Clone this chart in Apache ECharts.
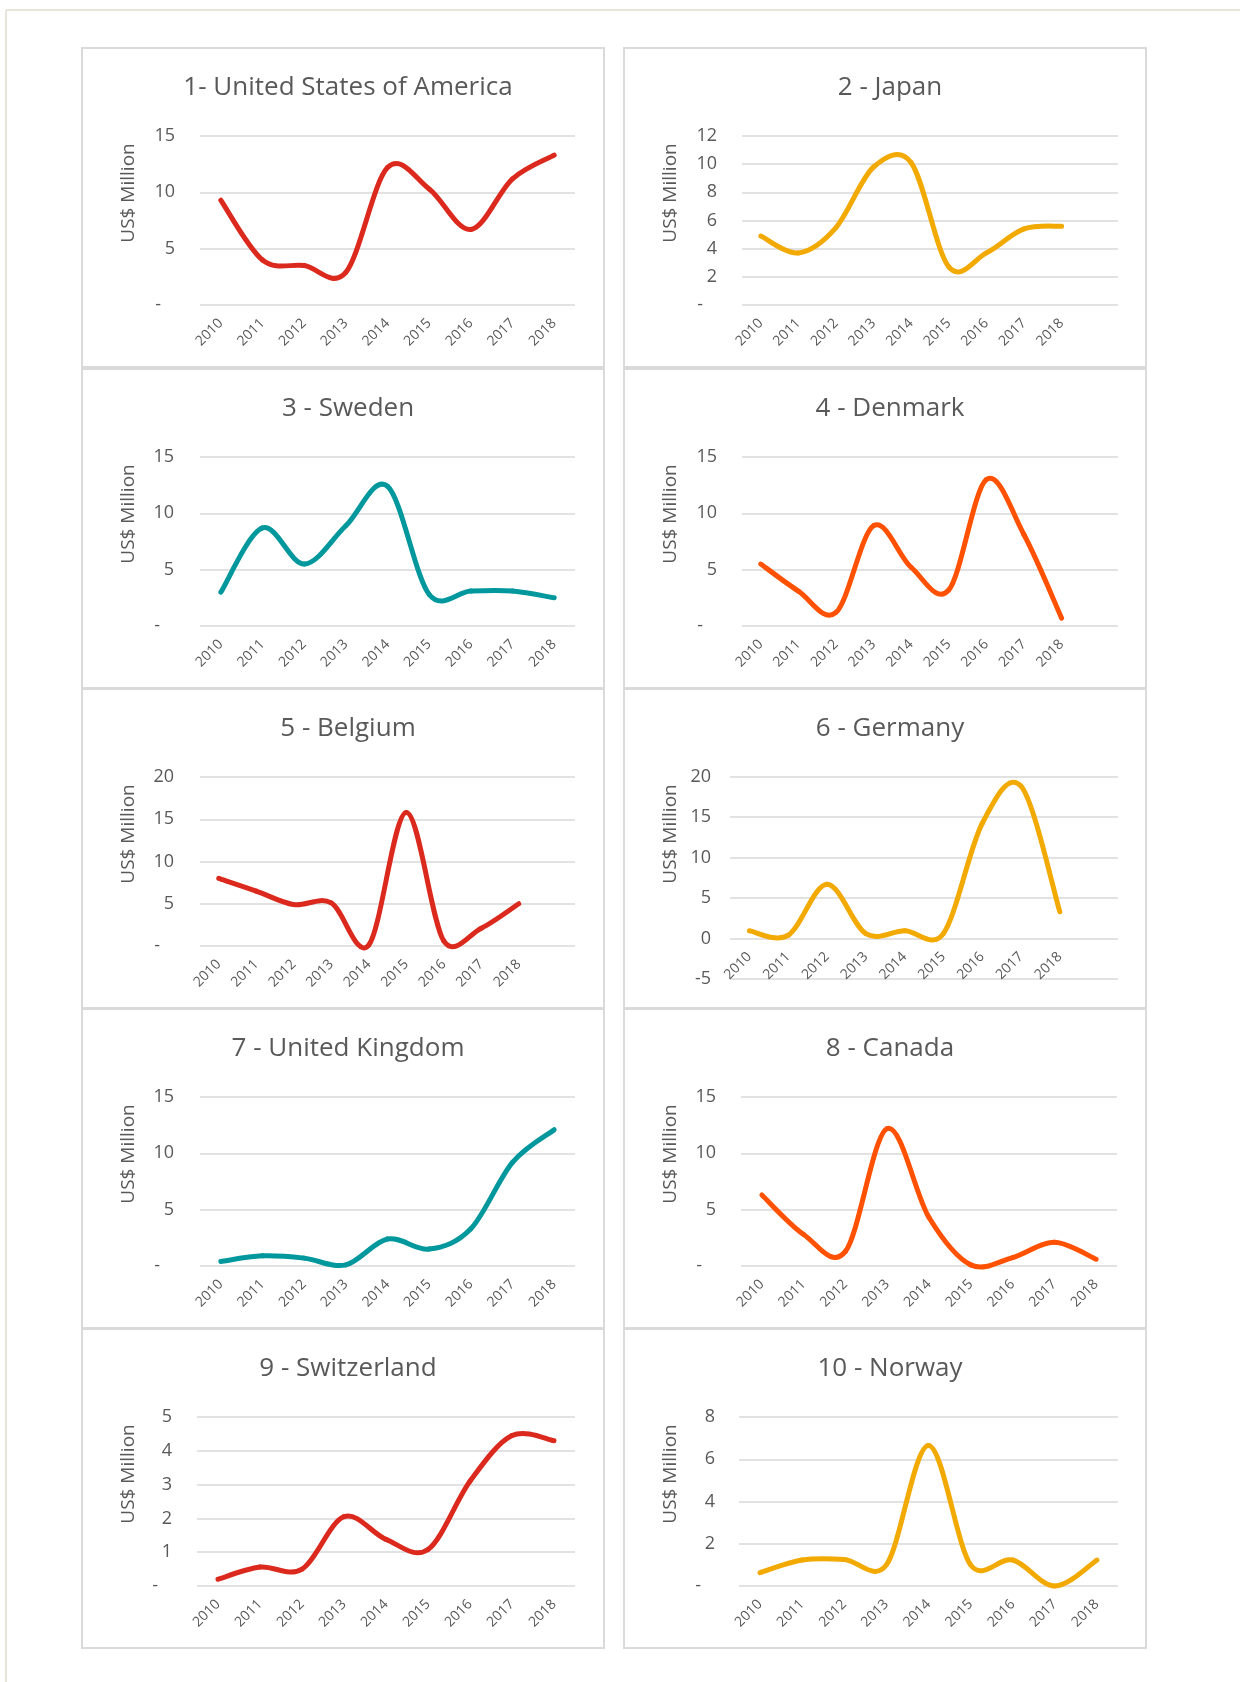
<!DOCTYPE html>
<html>
<head>
<meta charset="utf-8">
<title>Top 10 - US$ Million 2010-2018</title>
<script src="https://cdn.jsdelivr.net/npm/echarts@6/dist/echarts.min.js"></script>
<style>
	html, body {
		margin: 0;
		padding: 0;
		background: #ffffff;
	}
	#main {
		width: 1240px;
		height: 1682px;
	}
</style>
</head>
<body>
<div id="main"></div>
<script>
	// x axis years
	var years = ['2010', '2011', '2012', '2013', '2014', '2015', '2016', '2017', '2018'];

	// panel titles
	var titles = ['1- United States of America', '2 - Japan', '3 - Sweden', '4 - Denmark', '5 - Belgium',
		'6 - Germany', '7 - United Kingdom', '8 - Canada', '9 - Switzerland', '10 - Norway'];

	// US$ Million per year
	var usa = [9.3, 4.0, 3.5, 2.9, 12.2, 10.3, 6.7, 11.2, 13.3];
	var japan = [4.9, 3.7, 5.5, 9.8, 10.1, 2.7, 3.7, 5.4, 5.6];
	var sweden = [3.0, 8.7, 5.5, 8.9, 12.4, 2.8, 3.1, 3.1, 2.5];
	var denmark = [5.5, 3.1, 1.2, 8.9, 5.2, 3.2, 13.0, 8.1, 0.7];
	var belgium = [8.0, 6.5, 4.9, 5.1, 0.1, 15.8, 0.6, 2.1, 5.0];
	var germany = [0.95, 0.4, 6.7, 0.6, 0.95, 0.6, 14.2, 18.8, 3.3];
	var uk = [0.4, 0.9, 0.7, 0.1, 2.4, 1.5, 3.3, 9.2, 12.1];
	var canada = [6.3, 2.8, 1.3, 12.2, 4.3, 0.1, 0.75, 2.1, 0.6];
	var switzerland = [0.2, 0.56, 0.5, 2.05, 1.38, 1.08, 3.1, 4.45, 4.3];
	var norway = [0.63, 1.23, 1.26, 1.0, 6.65, 1.0, 1.23, 0.0, 1.23];
	var values = [usa, japan, sweden, denmark, belgium, germany, uk, canada, switzerland, norway];

	// y axis ticks
	var yMin = [0, 0, 0, 0, 0, -5, 0, 0, 0, 0];
	var yMax = [15, 12, 15, 15, 20, 20, 15, 15, 5, 8];
	var yStep = [5, 2, 5, 5, 5, 5, 5, 5, 1, 2];
	// some sheets had one empty row after 2018
	var extraBlank = [false, true, false, true, true, true, false, false, false, false];

	var RED = '#dc291e';
	var AMBER = '#f2a900';
	var TEAL = '#00979d';
	var ORANGE = '#ff5100';
	var lineColors = [RED, AMBER, TEAL, ORANGE, RED, AMBER, TEAL, ORANGE, RED, AMBER];

	// layout (px)
	var colLeft = [82, 624];
	var rowTop = [48, 369, 689, 1009, 1329];
	var panelW = 522;
	var panelH = 319;
	var gridLeft = [200, 742, 200, 742, 200, 730, 200, 741, 197, 739];
	var gridRight = [575, 1118, 575, 1118, 575, 1118, 575, 1117, 575, 1118];
	var labelGap = [25, 25, 26, 25, 26, 19, 26, 25, 25, 24];

	var FONT = '"Open Sans", "DejaVu Sans", sans-serif';
	var TEXT = '#595959';
	var GRIDLINE = '#d9d9d9';

	// excel style smoothed line: one bezier piece between point k and k+1
	function smoothPiece(vals, color) {
		return function (params, api) {
			var k = params.dataIndex;
			if (k >= vals.length - 1) {
				return null;
			}
			var pt = function (j) {
				j = Math.max(0, Math.min(vals.length - 1, j));
				return api.coord([j, vals[j]]);
			};
			var p0 = pt(k - 1), p1 = pt(k), p2 = pt(k + 1), p3 = pt(k + 2);
			var half = Math.sqrt(Math.pow(p2[0] - p1[0], 2) + Math.pow(p2[1] - p1[1], 2)) / 2;
			var t1x = (p2[0] - p0[0]) / 6, t1y = (p2[1] - p0[1]) / 6;
			var t2x = (p3[0] - p1[0]) / 6, t2y = (p3[1] - p1[1]) / 6;
			var l1 = Math.sqrt(t1x * t1x + t1y * t1y);
			var l2 = Math.sqrt(t2x * t2x + t2y * t2y);
			var s1 = l1 > half ? half / l1 : 1;
			var s2 = l2 > half ? half / l2 : 1;
			return {
				type: 'bezierCurve',
				shape: {
					x1: p1[0], y1: p1[1],
					x2: p2[0], y2: p2[1],
					cpx1: p1[0] + t1x * s1, cpy1: p1[1] + t1y * s1,
					cpx2: p2[0] - t2x * s2, cpy2: p2[1] - t2y * s2
				},
				style: {
					fill: 'none',
					stroke: color,
					lineWidth: 5,
					lineCap: 'round'
				}
			};
		};
	}

	var chart = echarts.init(document.getElementById('main'));

	var option = {
		animation: false,
		backgroundColor: '#ffffff',
		title: [],
		grid: [],
		xAxis: [],
		yAxis: [],
		series: [],
		graphic: []
	};

	// outer frame (only top and left visible)
	option.graphic.push({
		type: 'line',
		shape: { x1: 6, y1: 10, x2: 1240, y2: 10 },
		style: { stroke: '#e7e5d7', lineWidth: 2 }
	});
	option.graphic.push({
		type: 'line',
		shape: { x1: 6, y1: 10, x2: 6, y2: 1682 },
		style: { stroke: '#e7e5d7', lineWidth: 2 }
	});

	for (var i = 0; i < 10; i++) {
		var px = colLeft[i % 2];
		var py = rowTop[Math.floor(i / 2)];
		var isGermany = yMin[i] < 0;

		var cats = years.slice();
		if (extraBlank[i]) cats.push('');

		//面板边框
		option.graphic.push({
			type: 'rect',
			shape: { x: px, y: py, width: panelW, height: panelH },
			style: { fill: 'transparent', stroke: '#dadada', lineWidth: 2 }
		});
		// y axis title
		option.graphic.push({
			type: 'text',
			x: px + 47,
			y: py + 145,
			rotation: Math.PI / 2,
			style: {
				text: 'US$ Million',
				fill: TEXT,
				font: '19px ' + FONT,
				align: 'center',
				verticalAlign: 'middle'
			}
		});

		option.title.push({
			text: titles[i],
			left: px + panelW / 2,
			top: py + 22,
			textAlign: 'center',
			textStyle: {
				color: TEXT,
				fontSize: 26,
				fontWeight: 'normal',
				fontFamily: FONT
			}
		});

		option.grid.push({
			left: gridLeft[i],
			right: 1240 - gridRight[i],
			top: py + (isGermany ? 87.5 : 88),
			height: isGermany ? 202.5 : 169,
			containLabel: false
		});

		option.xAxis.push({
			type: 'category',
			gridIndex: i,
			data: cats,
			boundaryGap: true,
			// germany: labels sit on the 0 line, not the -5 line
			offset: isGermany ? -40.5 : 0,
			axisLine: { show: false, onZero: false },
			axisTick: { show: false },
			splitLine: { show: false },
			axisLabel: {
				interval: 0,
				rotate: 45,
				margin: 16,
				color: TEXT,
				fontSize: 14,
				fontFamily: FONT
			}
		});

		option.yAxis.push({
			type: 'value',
			gridIndex: i,
			min: yMin[i],
			max: yMax[i],
			interval: yStep[i],
			axisLine: { show: false },
			axisTick: { show: false },
			splitLine: { lineStyle: { color: GRIDLINE, width: 1.5 } },
			axisLabel: {
				margin: labelGap[i],
				color: TEXT,
				fontSize: 18,
				fontFamily: FONT,
				formatter: isGermany ? '{value}' : function (v) {
					return v === 0 ? '-   ' : String(v);
				}
			}
		});

		option.series.push({
			type: 'custom',
			name: titles[i],
			xAxisIndex: i,
			yAxisIndex: i,
			data: values[i].map(function (v, j) { return [j, v]; }),
			encode: { x: 0, y: 1 },
			renderItem: smoothPiece(values[i], lineColors[i])
		});
	}

	chart.setOption(option);
</script>
</body>
</html>
